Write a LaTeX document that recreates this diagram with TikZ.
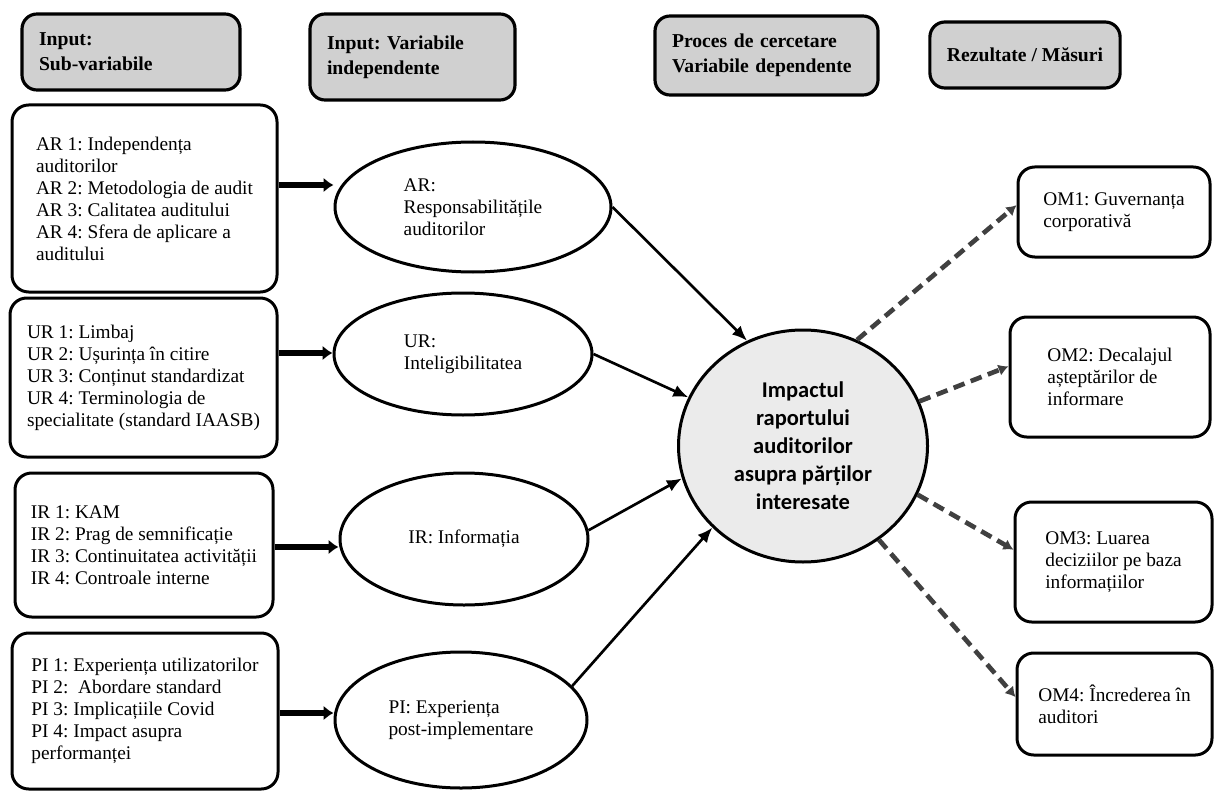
\documentclass[tikz,border=0pt]{standalone}
\usepackage{fontspec}
\setmainfont{Liberation Serif}
\newfontfamily\circfont{Carlito}
\usetikzlibrary{arrows.meta,shapes.geometric}
\definecolor{hdrgray}{HTML}{D0D0D0}
\definecolor{circgray}{HTML}{EBEBEB}
\definecolor{dashgray}{HTML}{404040}
\def\pxu{0.6pt}
\frenchspacing

\begin{document}
\begin{tikzpicture}[x=0.6pt,y=-0.6pt,
    hdr/.style={draw,line width=1.9pt,rounded corners=9pt,fill=hdrgray,align=left,
      font=\fontsize{11.8pt}{15pt}\selectfont\bfseries,inner xsep=17*\pxu},
    subbox/.style={draw,line width=1.8pt,rounded corners=10pt,align=left,
      font=\fontsize{11.6pt}{13.2pt}\selectfont},
    varell/.style={draw,ellipse,line width=1.8pt,inner sep=0pt,align=left,
      font=\fontsize{11.6pt}{13.2pt}\selectfont},
    bigarrow/.style={line width=4pt,-{Latex[length=6pt,width=9pt]}},
    linkarrow/.style={line width=1.6pt,-{Latex[length=9pt,width=7.5pt]}},
    outarrow/.style={line width=2.8pt,dashgray,dash pattern=on 7pt off 4pt,
      -{Latex[length=6pt,width=7pt]}}]
  \useasboundingbox (0,0) rectangle (1216,791);
  % headers
  \path (131,52) node[hdr,minimum width=218*\pxu,minimum height=76*\pxu,text width=184*\pxu] (hsub) {Input:\\Sub-variabile};
  \path (412.5,57) node[hdr,minimum width=205*\pxu,minimum height=86*\pxu,text width=171*\pxu] (hind) {Input: Variabile\\independente};
  \path (766.5,55.5) node[hdr,minimum width=223*\pxu,minimum height=79*\pxu,text width=189*\pxu] (hdep) {Proces de cercetare\\Variabile dependente};
  \path (1025,55) node[hdr,minimum width=184*\pxu,minimum height=66*\pxu] (hrez) {Rezultate / Măsuri};
  % sub-variables
  \path (144.5,198.5) node[subbox,minimum width=265*\pxu,minimum height=187*\pxu] (arbox)
    {AR 1: Independența\\auditorilor\\AR 2: Metodologia de audit\\AR 3: Calitatea auditului\\AR 4: Sfera de aplicare a\\auditului};
  \path (143.5,377.5) node[subbox,minimum width=267*\pxu,minimum height=159*\pxu] (urbox)
    {UR 1: Limbaj\\UR 2: Ușurința în citire\\UR 3: Conținut standardizat\\UR 4: Terminologia de\\specialitate (standard IAASB)};
  \path (144,545) node[subbox,minimum width=258*\pxu,minimum height=144*\pxu] (irbox)
    {IR 1: KAM\\IR 2: Prag de semnificație\\IR 3: Continuitatea activității\\IR 4: Controale interne};
  \path (145,711) node[subbox,minimum width=266*\pxu,minimum height=156*\pxu] (pibox)
    {PI 1: Experiența utilizatorilor\\PI 2:\ \ Abordare standard\\PI 3: Implicațiile Covid\\PI 4: Impact asupra\\performanței};
  % independent variables
  \path (473,207) node[varell,minimum width=276*\pxu,minimum height=130*\pxu] (arv) {AR:\\Responsabilitățile\\auditorilor};
  \path (463,354) node[varell,minimum width=258*\pxu,minimum height=122*\pxu] (urv) {UR:\\Inteligibilitatea};
  \path (464,539) node[varell,minimum width=248*\pxu,minimum height=132*\pxu] (irv) {IR: Informația};
  \path (461,720) node[varell,minimum width=252*\pxu,minimum height=136*\pxu] (piv) {PI: Experiența\\post-implementare};
  % dependent variable
  \path (803,446) node[draw,ellipse,line width=1.8pt,fill=circgray,inner sep=0pt,align=center,
    minimum width=249*\pxu,minimum height=232*\pxu,
    font=\circfont\fontsize{13.5pt}{16.8pt}\selectfont\bfseries] (imp)
    {Impactul\\raportului\\auditorilor\\asupra părților\\interesate};
  % outcomes
  \path (1114,212) node[subbox,minimum width=192*\pxu,minimum height=90*\pxu] (om1) {OM1: Guvernanța\\corporativă};
  \path (1110,377) node[subbox,minimum width=200*\pxu,minimum height=120*\pxu] (om2) {OM2: Decalajul\\așteptărilor de\\informare};
  \path (1113.5,562) node[subbox,minimum width=197*\pxu,minimum height=120*\pxu] (om3) {OM3: Luarea\\deciziilor pe baza\\informațiilor};
  \path (1114.5,704) node[subbox,minimum width=195*\pxu,minimum height=102*\pxu] (om4) {OM4: Încrederea în\\auditori};
  % connectors
  \draw[bigarrow] (arbox.east |- 0,185) -- (arv.west |- 0,185);
  \draw[bigarrow] (urbox.east |- 0,353) -- (urv.west |- 0,353);
  \draw[bigarrow] (irbox.east |- 0,547) -- (irv.west |- 0,547);
  \draw[bigarrow] (pibox.east |- 0,713) -- (piv.west |- 0,713);
  \draw[linkarrow] (arv.east) -- (imp.118);
  \draw[linkarrow] (urv.east) -- (imp.157);
  \draw[linkarrow] (irv.4) -- (imp.195);
  \draw[linkarrow] (piv.17) -- (imp.222);
  \draw[outarrow] (imp.63) -- (om1.176);
  \draw[outarrow] (imp.21) -- (om2.174);
  \draw[outarrow] (imp.337) -- (om3.173);
  \draw[outarrow] (imp.309) -- (om4.176);
\end{tikzpicture}
\end{document}
